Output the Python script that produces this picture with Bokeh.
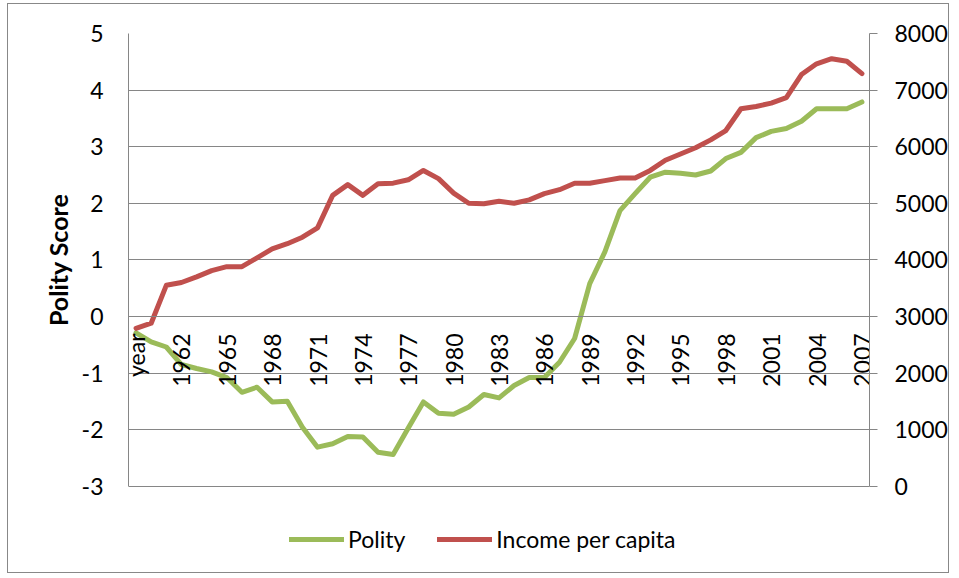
from math import pi
from bokeh.plotting import figure
from bokeh.models import Range1d, LinearAxis, FixedTicker, Legend, LegendItem, Title
from bokeh.embed import file_html
from bokeh.resources import INLINE

# ---- data ----
years = ["year"] + [str(y) for y in range(1960, 2008)]
polity = [-0.29, -0.45, -0.54, -0.85, -0.92, -0.98, -1.08, -1.34, -1.25, -1.51,
          -1.50, -1.96, -2.31, -2.25, -2.12, -2.13, -2.40, -2.44, -1.97, -1.51,
          -1.71, -1.73, -1.60, -1.38, -1.44, -1.22, -1.08, -1.08, -0.81, -0.39,
          0.58, 1.14, 1.87, 2.17, 2.46, 2.55, 2.53, 2.50, 2.57, 2.79,
          2.90, 3.16, 3.27, 3.32, 3.45, 3.67, 3.67, 3.67, 3.79]
income = [2790, 2880, 3550, 3600, 3700, 3810, 3880, 3880, 4035, 4195,
          4285, 4400, 4565, 5140, 5330, 5140, 5345, 5355, 5415, 5580,
          5435, 5180, 5000, 4990, 5035, 5000, 5060, 5170, 5240, 5355,
          5355, 5400, 5445, 5445, 5580, 5760, 5870, 5980, 6120, 6285,
          6670, 6710, 6770, 6865, 7275, 7465, 7555, 7510, 7290]
left_ticks = [-3, -2, -1, 0, 1, 2, 3, 4, 5]
right_ticks = [0, 1000, 2000, 3000, 4000, 5000, 6000, 7000, 8000]
label_idx = list(range(0, len(years), 3))

FONT = "Lato"
GRID = "#868686"
GREEN = "#9BBB59"
RED = "#C0504D"

x = list(range(len(years)))

# extra room below the -3 line holds the legend inside the frame
EXT = 1.472
p = figure(width=942, height=570, output_backend="svg", toolbar_location=None,
           x_range=Range1d(-0.5, len(years) - 0.5), y_range=Range1d(-3 - EXT, 5),
           min_border_left=120, min_border_right=79, min_border_top=29, min_border_bottom=5)
p.extra_y_ranges = {"inc": Range1d(-EXT * 1000, 8000)}
p.styles = {"border": "1px solid #888888", "margin-left": "7px", "margin-top": "3px"}
p.outline_line_color = None
p.background_fill_color = "white"
p.border_fill_color = "white"

# x axis at polity 0
xa = p.xaxis[0]
xa.fixed_location = 0
xa.ticker = FixedTicker(ticks=label_idx)
xa.major_label_overrides = {i: years[i] for i in label_idx}
xa.major_label_orientation = pi / 2
xa.major_tick_out = 0
xa.major_tick_in = 0
xa.minor_tick_out = 0
xa.minor_tick_in = 0
xa.major_label_standoff = 17
xa.axis_line_color = GRID
xa.major_label_text_font = FONT
xa.major_label_text_font_size = "23px"
xa.major_label_text_color = "black"

ya = p.yaxis[0]
ya.ticker = FixedTicker(ticks=left_ticks)
ya.bounds = (-3, 5)
ya.major_label_overrides = {t: str(t) for t in left_ticks}
ya.major_tick_out = 0
ya.major_tick_in = 0
ya.minor_tick_out = 0
ya.minor_tick_in = 0
ya.major_label_standoff = 25
ya.axis_line_color = GRID
ya.major_label_text_font = FONT
ya.major_label_text_font_size = "23px"
ya.major_label_text_color = "black"

# axis title, centred on the -3..5 span
ytitle = Title(text="Polity Score", align="right", offset=160, vertical_align="middle",
               text_font=FONT, text_font_size="25px", text_font_style="bold",
               text_color="black", standoff=10)
p.add_layout(ytitle, "left")

ra = LinearAxis(y_range_name="inc", ticker=FixedTicker(ticks=right_ticks), bounds=(0, 8000))
ra.major_tick_out = 8
ra.major_tick_in = 0
ra.minor_tick_out = 0
ra.minor_tick_in = 0
ra.major_tick_line_color = GRID
ra.axis_line_color = GRID
ra.major_label_standoff = 17
ra.major_label_text_font = FONT
ra.major_label_text_font_size = "23px"
ra.major_label_text_color = "black"
p.add_layout(ra, "right")

p.xgrid.visible = False
p.ygrid.ticker = FixedTicker(ticks=left_ticks)
p.ygrid.grid_line_color = GRID
p.ygrid.grid_line_width = 1

g = p.line(x, polity, color=GREEN, line_width=5, line_join="round", line_cap="round")
r = p.line(x, income, y_range_name="inc", color=RED, line_width=5,
           line_join="round", line_cap="round")

legend = Legend(items=[LegendItem(label="Polity", renderers=[g]),
                       LegendItem(label="Income per capita", renderers=[r])],
                orientation="horizontal", location=(161, 16),
                glyph_width=55, glyph_height=26, label_standoff=4, spacing=32,
                padding=0, margin=0, border_line_color=None, background_fill_alpha=0,
                label_text_font=FONT, label_text_font_size="23px",
                label_text_color="black")
p.add_layout(legend)

open("out.html", "w").write(file_html(p, INLINE))
